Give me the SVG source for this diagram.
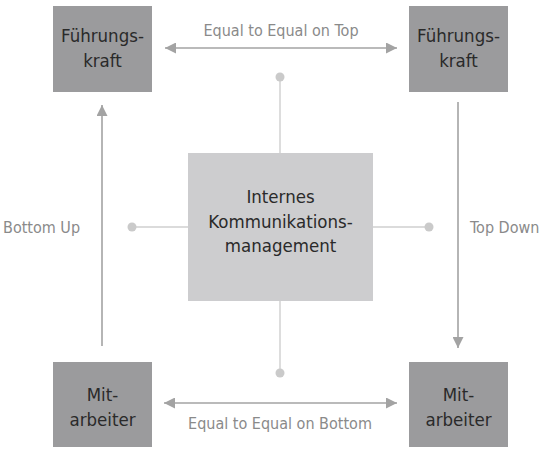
<svg xmlns="http://www.w3.org/2000/svg" width="541" height="450" viewBox="0 0 541 450">
<defs>
<style>
.box{fill:#9b9b9d}
.center{fill:#cdcdcf}
.bt{font-family:"DejaVu Sans Condensed","DejaVu Sans",sans-serif;font-stretch:condensed;font-size:18.5px;fill:#2a2a2a;text-anchor:middle}
.lbl{font-family:"DejaVu Sans Condensed","DejaVu Sans",sans-serif;font-stretch:condensed;font-size:16px;fill:#8a8a8a}
.arr{stroke:#a3a3a3;stroke-width:1.6;fill:none}
.con{stroke:#cfcfcf;stroke-width:1.4;fill:none}
.dot{fill:#cacaca}
</style>
<marker id="ah" viewBox="0 0 10 10" refX="10" refY="5" markerWidth="11" markerHeight="11" markerUnits="userSpaceOnUse" orient="auto">
<path d="M0,0 L10,5 L0,10 z" fill="#a3a3a3"/>
</marker>
</defs>
<g id="connectors">
<line class="arr" x1="212" y1="48" x2="165" y2="48" marker-end="url(#ah)"/>
<line class="arr" x1="350" y1="48" x2="397" y2="48" marker-end="url(#ah)"/>
<line class="arr" x1="212" y1="403" x2="164" y2="403" marker-end="url(#ah)"/>
<line class="arr" x1="350" y1="403" x2="397" y2="403" marker-end="url(#ah)"/>
<line class="arr" x1="212" y1="48" x2="350" y2="48"/>
<line class="arr" x1="212" y1="403" x2="350" y2="403"/>
<line class="arr" x1="102" y1="346" x2="102" y2="105" marker-end="url(#ah)"/>
<line class="arr" x1="458" y1="102" x2="458" y2="348" marker-end="url(#ah)"/>
<line class="con" x1="280" y1="77" x2="280" y2="153"/>
<line class="con" x1="280" y1="301" x2="280" y2="373"/>
<line class="con" x1="132" y1="227" x2="188" y2="227"/>
<line class="con" x1="373" y1="227" x2="429" y2="227"/>
<circle class="dot" cx="280" cy="77" r="4.5"/>
<circle class="dot" cx="280" cy="373" r="4.5"/>
<circle class="dot" cx="132" cy="227" r="4.5"/>
<circle class="dot" cx="429" cy="227" r="4.5"/>
<text class="lbl" x="281" y="36" text-anchor="middle">Equal to Equal on Top</text>
<text class="lbl" x="280" y="429" text-anchor="middle">Equal to Equal on Bottom</text>
<text class="lbl" x="3" y="233">Bottom Up</text>
<text class="lbl" x="470" y="233">Top Down</text>
</g>
<g id="fk-left">
<rect class="box" x="53" y="6" width="99" height="86"/>
<text class="bt" x="102.5" y="42">Führungs-</text>
<text class="bt" x="102.5" y="67">kraft</text>
</g>
<g id="fk-right">
<rect class="box" x="409" y="6" width="99" height="86"/>
<text class="bt" x="458.5" y="42">Führungs-</text>
<text class="bt" x="458.5" y="67">kraft</text>
</g>
<g id="center">
<rect class="center" x="188" y="153" width="185" height="148"/>
<text class="bt" x="280.5" y="203">Internes</text>
<text class="bt" x="280.5" y="228">Kommunikations-</text>
<text class="bt" x="280.5" y="252">management</text>
</g>
<g id="ma-left">
<rect class="box" x="53" y="362" width="99" height="85"/>
<text class="bt" x="102.5" y="401">Mit-</text>
<text class="bt" x="102.5" y="426">arbeiter</text>
</g>
<g id="ma-right">
<rect class="box" x="409" y="362" width="99" height="85"/>
<text class="bt" x="458.5" y="401">Mit-</text>
<text class="bt" x="458.5" y="426">arbeiter</text>
</g>
</svg>
